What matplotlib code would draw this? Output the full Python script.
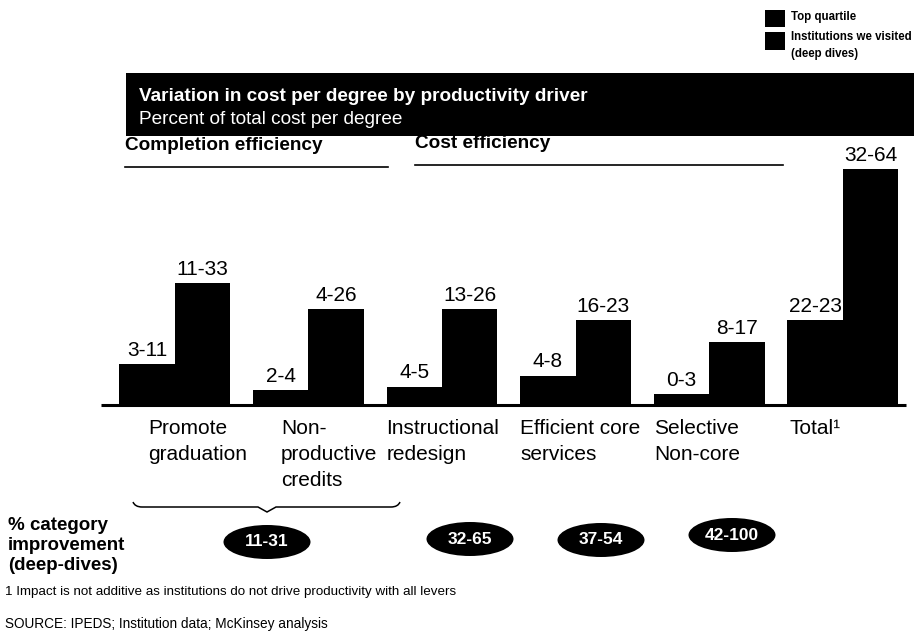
import numpy as np
import matplotlib.pyplot as plt
import matplotlib as mpl
from matplotlib.patches import Rectangle, Ellipse, PathPatch
from matplotlib.path import Path

mpl.rcParams['font.family'] = ['Liberation Sans', 'DejaVu Sans']

# data
categories = ["Promote\ngraduation", "Non-\nproductive\ncredits", "Instructional\nredesign",
              "Efficient core\nservices", "Selective\nNon-core", "Total\u00b9"]
top_quartile = ["3-11", "2-4", "4-5", "4-8", "0-3", "22-23"]
deep_dives = ["11-33", "4-26", "13-26", "16-23", "8-17", "32-64"]
improvement = ["11-31", "32-65", "37-54", "42-100"]
legend_labels = ["Top quartile", "Institutions we visited", "(deep dives)"]

# bar height = upper end of each range
h_top = [float(s.split("-")[1]) for s in top_quartile]
h_deep = [float(s.split("-")[1]) for s in deep_dives]

W, H = 919, 642
fig = plt.figure(figsize=(W / 100, H / 100), dpi=100)


def fx(x):
    return x / W


def fy(y):
    return 1 - y / H


# bar axes: x in group units, baseline at pixel row 405
ax = fig.add_axes([fx(108), fy(405), (909.6 - 108) / W, (405 - 169.3) / H])
ax.set_xlim(-0.5, 5.5)
ax.set_ylim(0, 64)
ax.axis('off')

bw = 0.415
x = np.arange(len(categories))
ax.bar(x - bw / 2, h_top, width=bw, color='black', linewidth=0)
ax.bar(x + bw / 2, h_deep, width=bw, color='black', linewidth=0)
ax.plot([-0.55, 5.47], [0, 0], color='black', lw=2.2, clip_on=False,
        solid_capstyle='butt')

for xi, h, lab in zip(x - bw / 2, h_top, top_quartile):
    ax.annotate(lab, (xi, h), xytext=(0, 3), textcoords='offset points',
                ha='center', va='bottom', fontsize=15, annotation_clip=False)
for xi, h, lab in zip(x + bw / 2, h_deep, deep_dives):
    ax.annotate(lab, (xi, h), xytext=(0, 3), textcoords='offset points',
                ha='center', va='bottom', fontsize=15, annotation_clip=False)

# category labels, offsets in pixels from the group's left edge
lab_off = [29, 28, 0, 0, 0, 2]
for xi, off, lab in zip(x - bw, lab_off, categories):
    ax.annotate(lab, (xi, 0), xytext=(off * 0.72, -14 * 0.72),
                textcoords='offset points', ha='left', va='top',
                fontsize=15, linespacing=1.45, annotation_clip=False)

# legend
for y0, y1 in [(10, 27), (32, 50)]:
    fig.add_artist(Rectangle((fx(765), fy(y1)), fx(785) - fx(765), fy(y0) - fy(y1),
                             transform=fig.transFigure, color='black', lw=0))
for yy, lab in zip([17, 37, 54], legend_labels):
    fig.text(fx(791), fy(yy), lab, fontsize=8.3, va='center', ha='left',
             fontweight='bold')

# title box
fig.add_artist(Rectangle((fx(126), fy(136)), fx(914) - fx(126), fy(73) - fy(136),
                         transform=fig.transFigure, color='black', lw=0))
fig.text(fx(139), fy(101), "Variation in cost per degree by productivity driver",
         color='white', fontsize=13.7, fontweight='bold', va='baseline')
fig.text(fx(139), fy(124), "Percent of total cost per degree",
         color='white', fontsize=13.7, va='baseline')

# section headers
fig.text(fx(125), fy(150), "Completion efficiency", fontsize=13.7,
         fontweight='bold', va='baseline')
fig.add_artist(plt.Line2D([fx(125), fx(388)], [fy(167), fy(167)], color='black', lw=1.2))
fig.text(fx(415), fy(148), "Cost efficiency", fontsize=13.7,
         fontweight='bold', va='baseline')
fig.add_artist(plt.Line2D([fx(415), fx(783)], [fy(165), fy(165)], color='black', lw=1.2))

# brace under the first two categories
verts = [(133, 502), (135, 507), (142, 507), (258, 507), (267, 512), (276, 507),
         (391, 507), (398, 507), (400, 502)]
codes = [Path.MOVETO, Path.CURVE3, Path.CURVE3, Path.LINETO, Path.LINETO,
         Path.LINETO, Path.LINETO, Path.CURVE3, Path.CURVE3]
brace = Path([(fx(a), fy(b)) for a, b in verts], codes)
fig.add_artist(PathPatch(brace, transform=fig.transFigure, fill=False,
                         color='black', lw=1.1))

# improvement row
fig.text(fx(8), fy(517), "% category\nimprovement\n(deep-dives)", fontsize=13.5,
         fontweight='bold', va='top', ha='left', linespacing=1.22)
ell_pos = [(267, 542), (470, 539), (601, 540), (732, 535)]
for (ex, ey), lab in zip(ell_pos, improvement):
    fig.add_artist(Ellipse((fx(ex), fy(ey)), 87 / W, 34 / H,
                           transform=fig.transFigure, color='black', lw=0))
    fig.text(fx(ex), fy(ey), lab, color='white', fontsize=12.5, fontweight='bold',
             ha='center', va='center')

# footnotes
fig.text(fx(5), fy(595), "1 Impact is not additive as institutions do not drive productivity with all levers",
         fontsize=9.6, va='baseline')
fig.text(fx(5), fy(628), "SOURCE: IPEDS; Institution data; McKinsey analysis",
         fontsize=9.8, va='baseline')

fig.savefig("out.png", dpi=100)
